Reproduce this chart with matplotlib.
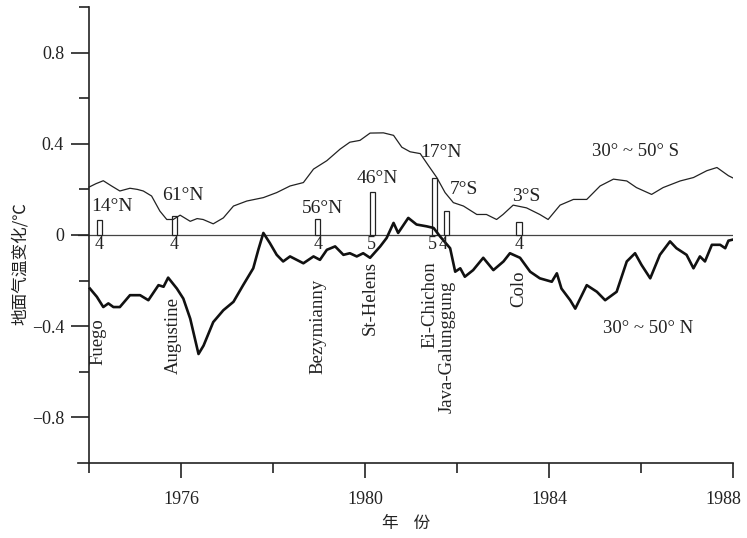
import matplotlib
matplotlib.use('Agg')
import matplotlib.pyplot as plt
import matplotlib.transforms as mtransforms
from matplotlib.ticker import FixedLocator

SERIF = 'Liberation Serif'
CJK = ['Noto Sans CJK SC', 'DejaVu Sans']

# 30~50 S (thin line)
years_s = [1974.00, 1974.15, 1974.31, 1974.49, 1974.67, 1974.89, 1975.05, 1975.18, 1975.36,
           1975.54, 1975.69, 1975.83, 1975.98, 1976.20, 1976.35, 1976.48, 1976.70, 1976.92,
           1977.14, 1977.43, 1977.79, 1978.08, 1978.37, 1978.66, 1978.88, 1979.17, 1979.46,
           1979.67, 1979.89, 1980.11, 1980.40, 1980.62, 1980.80, 1980.98, 1981.20, 1981.38,
           1981.56, 1981.74, 1981.92, 1982.14, 1982.43, 1982.64, 1982.86, 1983.00, 1983.22,
           1983.51, 1983.80, 1983.98, 1984.24, 1984.53, 1984.82, 1985.11, 1985.40, 1985.69,
           1985.90, 1986.23, 1986.48, 1986.85, 1987.14, 1987.43, 1987.65, 1987.90, 1988.00]
temp_s = [0.210, 0.225, 0.238, 0.215, 0.193, 0.205, 0.200, 0.193, 0.171,
          0.105, 0.068, 0.068, 0.087, 0.060, 0.072, 0.068, 0.049, 0.075,
          0.127, 0.149, 0.164, 0.186, 0.215, 0.230, 0.289, 0.326, 0.377,
          0.407, 0.415, 0.447, 0.448, 0.437, 0.385, 0.365, 0.357, 0.304,
          0.252, 0.186, 0.142, 0.127, 0.090, 0.090, 0.068, 0.090, 0.131,
          0.119, 0.090, 0.068, 0.131, 0.156, 0.156, 0.215, 0.245, 0.237,
          0.208, 0.178, 0.208, 0.237, 0.252, 0.282, 0.296, 0.260, 0.250]

# 30~50 N (thick line)
years_n = [1974.02, 1974.17, 1974.31, 1974.42, 1974.53, 1974.67, 1974.89, 1975.11, 1975.29,
           1975.51, 1975.62, 1975.72, 1975.91, 1976.05, 1976.20, 1976.38, 1976.49, 1976.70,
           1976.92, 1977.14, 1977.35, 1977.57, 1977.68, 1977.79, 1977.93, 1978.08, 1978.22,
           1978.37, 1978.66, 1978.88, 1979.02, 1979.17, 1979.35, 1979.53, 1979.67, 1979.82,
           1979.96, 1980.11, 1980.33, 1980.47, 1980.62, 1980.72, 1980.94, 1981.12, 1981.34,
           1981.49, 1981.63, 1981.85, 1981.96, 1982.07, 1982.17, 1982.35, 1982.57, 1982.79,
           1983.01, 1983.15, 1983.37, 1983.59, 1983.80, 1984.06, 1984.17, 1984.27, 1984.46,
           1984.57, 1984.82, 1985.04, 1985.22, 1985.47, 1985.69, 1985.87, 1986.01, 1986.20,
           1986.41, 1986.63, 1986.77, 1986.99, 1987.14, 1987.28, 1987.39, 1987.54, 1987.72,
           1987.83, 1987.90, 1988.00]
temp_n = [-0.235, -0.271, -0.316, -0.300, -0.316, -0.316, -0.264, -0.264, -0.286,
          -0.220, -0.227, -0.187, -0.235, -0.279, -0.367, -0.522, -0.485, -0.382,
          -0.330, -0.293, -0.220, -0.146, -0.065, 0.009, -0.035, -0.087, -0.116,
          -0.094, -0.124, -0.094, -0.109, -0.065, -0.050, -0.087, -0.080, -0.094,
          -0.080, -0.100, -0.050, -0.013, 0.053, 0.009, 0.075, 0.046, 0.038,
          0.031, -0.006, -0.058, -0.161, -0.146, -0.183, -0.154, -0.100, -0.154,
          -0.116, -0.080, -0.100, -0.161, -0.190, -0.205, -0.168, -0.235, -0.286,
          -0.323, -0.220, -0.249, -0.286, -0.249, -0.116, -0.080, -0.131, -0.190,
          -0.087, -0.028, -0.058, -0.087, -0.146, -0.094, -0.116, -0.043, -0.043,
          -0.058, -0.025, -0.020]

# eruptions
volcanoes = ['Fuego', 'Augustine', 'Bezymianny', 'St-Helens', 'Ei-Chichon', 'Java-Galunggung', 'Colo']
erupt_year = [1974.23, 1975.86, 1978.97, 1980.16, 1981.51, 1981.77, 1983.35]
erupt_bar = [0.065, 0.083, 0.072, 0.190, 0.249, 0.105, 0.058]
latitudes = ['14°N', '61°N', '56°N', '46°N', '17°N', '7°S', '3°S']
vei = ['4', '4', '4', '5', '5', '4', '4']

# label placements (data coords)
lat_xy = [(1974.50, 0.124), (1976.04, 0.172), (1979.08, 0.115), (1980.27, 0.248),
          (1981.65, 0.363), (1982.15, 0.201), (1983.50, 0.168)]
vei_x = [1974.23, 1975.86, 1978.97, 1980.14, 1981.47, 1981.70, 1983.35]
name_xy = [(1974.20, -0.363), (1975.83, -0.270), (1978.97, -0.190), (1980.11, -0.115),
           (1981.42, -0.115), (1981.79, -0.200), (1983.35, -0.155)]

fig = plt.figure(figsize=(7.47, 5.38), dpi=100)
ax = fig.add_axes([0.1044, 0.1394, 0.8769, 0.8476])

ax.axhline(0, color='#444444', lw=0.9, zorder=1)
ax.plot(years_s, temp_s, color='#222222', lw=0.9, zorder=3)
ax.plot(years_n, temp_n, color='#111111', lw=1.9, zorder=3)
ax.bar(erupt_year, erupt_bar, width=0.12, bottom=0, color='white',
       edgecolor='#222222', linewidth=0.9, zorder=2)

for (x, y), t in zip(lat_xy, latitudes):
    ax.text(x, y, t, ha='center', va='center', fontsize=14, family=SERIF, color='#222222')
for x, t in zip(vei_x, vei):
    ax.text(x, -0.006, t, ha='center', va='top', fontsize=13, family=SERIF, color='#222222')
for (x, y), t in zip(name_xy, volcanoes):
    ax.text(x, y, t, rotation=90, ha='center', va='top', fontsize=13.5, family=SERIF,
            color='#222222')

ax.text(1985.87, 0.367, '30° ~ 50° S', ha='center', va='center', fontsize=13.5, family=SERIF, color='#222222')
ax.text(1986.15, -0.41, '30° ~ 50° N', ha='center', va='center', fontsize=13.5, family=SERIF, color='#222222')

ax.set_xlim(1973.76, 1988)
ax.set_ylim(-1, 1)
ax.spines['top'].set_visible(False)
ax.spines['right'].set_visible(False)
ax.spines['left'].set_position(('data', 1974))
for s in ['left', 'bottom']:
    ax.spines[s].set_linewidth(1.2)
    ax.spines[s].set_color('#222222')

ax.xaxis.set_major_locator(FixedLocator([1976, 1980, 1984, 1988]))
ax.xaxis.set_minor_locator(FixedLocator([1974, 1978, 1982, 1986]))
ax.yaxis.set_major_locator(FixedLocator([-0.8, -0.4, 0, 0.4, 0.8]))
ax.yaxis.set_minor_locator(FixedLocator([-0.6, -0.2, 0.2, 0.6, 1.0]))
ax.set_yticklabels(['\u22120.8', '\u22120.4', '0', '0.4', '0.8'])
ax.tick_params(which='major', length=13, width=1.2, color='#222222', labelsize=13, pad=5,
               labelcolor='#222222')
ax.tick_params(which='minor', length=7, width=1.2, color='#222222')
ax.tick_params(axis='x', which='major', length=11, pad=9)
for lab in ax.get_xticklabels() + ax.get_yticklabels():
    lab.set_family(SERIF)

# keep the last year label inside the figure
last = ax.get_xticklabels()[-1]
last.set_transform(last.get_transform() + mtransforms.ScaledTranslation(-10 / 100, 0, fig.dpi_scale_trans))

fig.text(20 / 747, 1 - 264 / 538, '地面气温变化/℃', rotation=90, ha='center', va='center',
         fontsize=12, family=CJK, color='#222222')
fig.text(406 / 747, 1 - 523 / 538, '年    份', ha='center', va='center',
         fontsize=12, family=CJK, color='#222222')

fig.savefig('out.png', dpi=100)
